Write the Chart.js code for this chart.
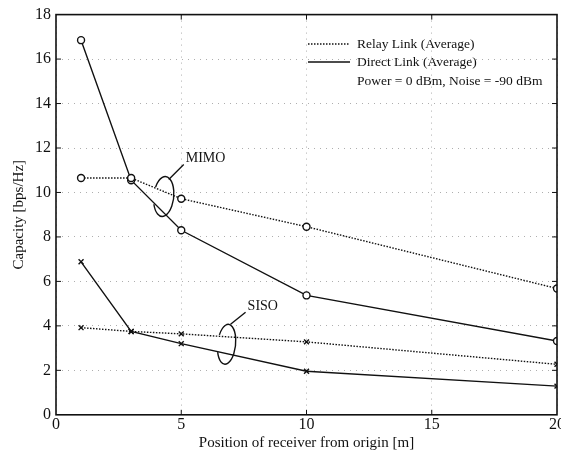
<!DOCTYPE html>
<html>
<head>
<meta charset="utf-8">
<script src="https://cdn.jsdelivr.net/npm/chart.js@4/dist/chart.umd.min.js"></script>
<style>
  body { margin: 0; overflow: hidden; background: #fff; }
  #wrap { width: 600px; height: 454px; }
</style>
</head>
<body>
<div id="wrap"><canvas id="capacityChart"></canvas></div>
<script>
const xPositions = [1, 3, 5, 10, 20];
const mimoRelay = [10.65, 10.65, 9.72, 8.46, 5.68];
const mimoDirect = [16.85, 10.55, 8.3, 5.37, 3.32];
const sisoRelay = [3.92, 3.75, 3.64, 3.28, 2.27];
const sisoDirect = [6.88, 3.75, 3.2, 1.96, 1.29];
const legendLabels = ["Relay Link (Average)", "Direct Link (Average)", "Power = 0 dBm, Noise = -90 dBm"];

const serif = "'Liberation Serif', 'DejaVu Serif', serif";

function pts(ys) {
  return xPositions.map((x, i) => ({ x: x, y: ys[i] }));
}

function series(label, ys, dashed, marker) {
  return {
    label: label,
    data: pts(ys),
    borderColor: "#111",
    borderWidth: 1.4,
    borderDash: dashed ? [1.5, 1.5] : [],
    pointStyle: marker,
    pointRadius: 3.5,
    pointBorderWidth: 1.4,
    pointBorderColor: "#111",
    pointBackgroundColor: "#fff",
    tension: 0
  };
}

// frame, legend text and MIMO / SISO notes
const decorations = {
  id: "decorations",
  afterDatasetsDraw(chart) {
    const ctx = chart.ctx;
    const a = chart.chartArea;
    const xs = chart.scales.x, ys = chart.scales.y;
    ctx.save();
    ctx.strokeStyle = "#111";
    ctx.lineWidth = 1.6;
    ctx.strokeRect(a.left, a.top, a.right - a.left, a.bottom - a.top);

    // inward ticks
    ctx.lineWidth = 1;
    ctx.beginPath();
    [5, 10, 15].forEach(v => {
      const px = xs.getPixelForValue(v);
      ctx.moveTo(px, a.bottom); ctx.lineTo(px, a.bottom - 5);
      ctx.moveTo(px, a.top); ctx.lineTo(px, a.top + 5);
    });
    for (let v = 2; v < 18; v += 2) {
      const py = ys.getPixelForValue(v);
      ctx.moveTo(a.left, py); ctx.lineTo(a.left + 5, py);
      ctx.moveTo(a.right, py); ctx.lineTo(a.right - 5, py);
    }
    ctx.stroke();

    // legend
    ctx.font = "13.5px " + serif;
    ctx.fillStyle = "#111";
    ctx.textBaseline = "middle";
    const lx0 = 308, lx1 = 350, tx = 357;
    const rows = [44, 62, 81];
    ctx.lineWidth = 1.3;
    ctx.setLineDash([1.5, 1.5]);
    ctx.beginPath(); ctx.moveTo(lx0, rows[0]); ctx.lineTo(lx1, rows[0]); ctx.stroke();
    ctx.setLineDash([]);
    ctx.beginPath(); ctx.moveTo(lx0, rows[1]); ctx.lineTo(lx1, rows[1]); ctx.stroke();
    legendLabels.forEach((t, i) => ctx.fillText(t, tx, rows[i]));

    // notes: ellipse open on its left side, leader line to the label
    function note(label, cx, cy, rx, ry, tx, ty, l0, l1) {
      const px = xs.getPixelForValue(cx), py = ys.getPixelForValue(cy);
      ctx.lineWidth = 1.4;
      ctx.beginPath();
      ctx.ellipse(px, py, rx, ry, 0.1, -Math.PI + 0.45, Math.PI - 0.45);
      ctx.stroke();
      ctx.beginPath();
      ctx.moveTo(px + l0[0], py + l0[1]);
      ctx.lineTo(px + l1[0], py + l1[1]);
      ctx.stroke();
      ctx.font = "14px " + serif;
      ctx.fillText(label, px + tx, py + ty);
    }
    note("MIMO", 4.3, 9.82, 10, 20, 22, -38, [5, -17], [20, -32]);
    note("SISO", 6.81, 3.17, 9, 20, 21, -38, [4, -20], [19, -32]);
    ctx.restore();
  }
};

new Chart(document.getElementById("capacityChart"), {
  type: "line",
  data: {
    datasets: [
      series("MIMO Relay", mimoRelay, true, "circle"),
      series("MIMO Direct", mimoDirect, false, "circle"),
      series("SISO Relay", sisoRelay, true, "crossRot"),
      series("SISO Direct", sisoDirect, false, "crossRot")
    ]
  },
  options: {
    animation: false,
    responsive: true,
    maintainAspectRatio: false,
    layout: { padding: { top: 14, right: 43, left: 10, bottom: 2 } },
    plugins: {
      legend: { display: false },
      tooltip: { enabled: false }
    },
    scales: {
      x: {
        type: "linear",
        min: 0,
        max: 20,
        ticks: { stepSize: 5, color: "#111", font: { family: serif, size: 16 }, padding: 0 },
        grid: { color: "#999", lineWidth: 0.8, drawTicks: false },
        border: { display: false, dash: [1, 5] },
        title: { display: true, text: "Position of receiver from origin [m]", color: "#111", font: { family: serif, size: 15 }, padding: { top: 0, bottom: 0 } }
      },
      y: {
        min: 0,
        max: 18,
        ticks: { stepSize: 2, color: "#111", font: { family: serif, size: 16 }, padding: 5 },
        grid: { color: "#999", lineWidth: 0.8, drawTicks: false },
        border: { display: false, dash: [1, 5] },
        title: { display: true, text: "Capacity [bps/Hz]", color: "#111", font: { family: serif, size: 15 }, padding: { top: 0, bottom: 2 } }
      }
    }
  },
  plugins: [decorations]
});
</script>
</body>
</html>
